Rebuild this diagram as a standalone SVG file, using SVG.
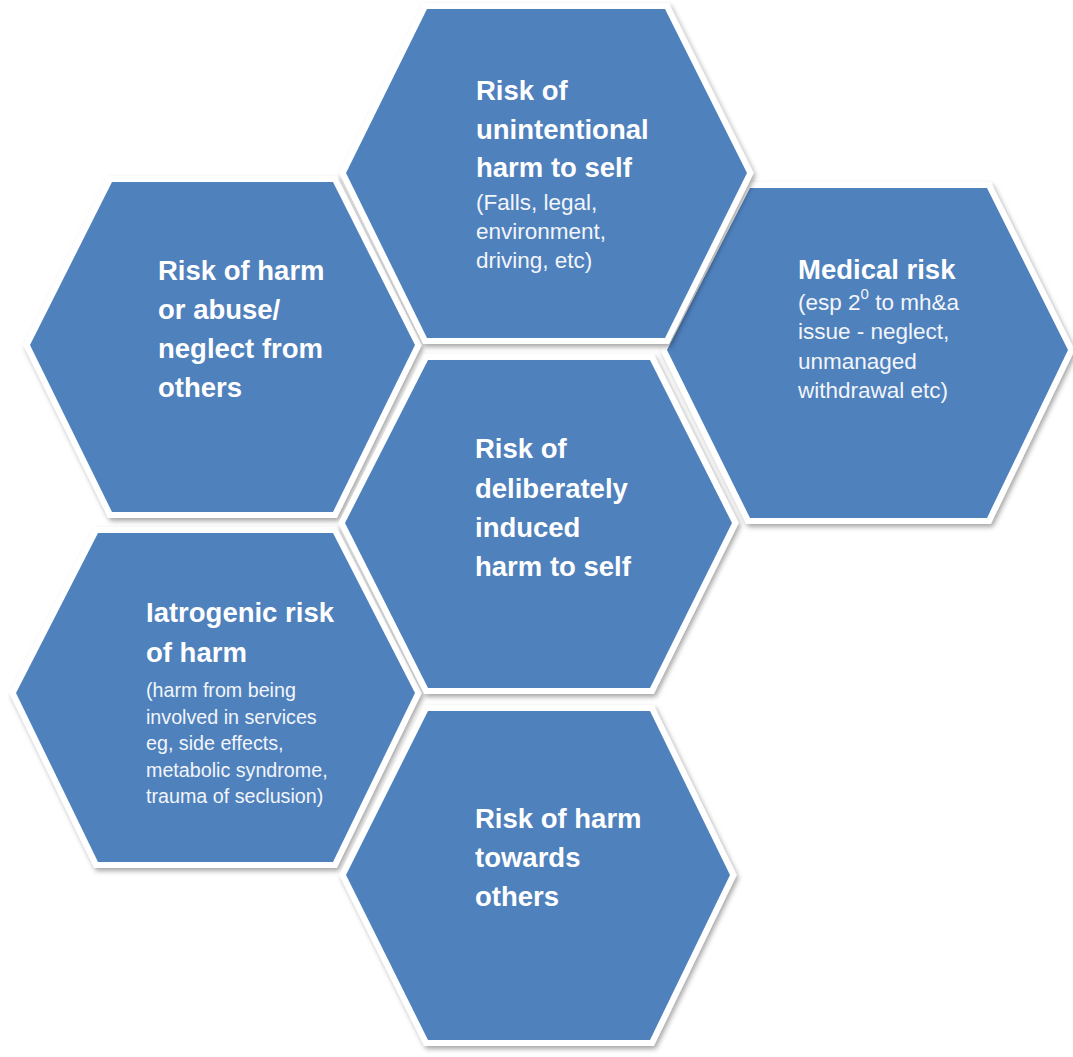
<svg xmlns="http://www.w3.org/2000/svg" width="1073" height="1057" viewBox="0 0 1073 1057">
  <defs>
    <filter id="shadow" x="-10%" y="-10%" width="120%" height="120%">
      <feDropShadow dx="2" dy="3" stdDeviation="2.5" flood-color="#000" flood-opacity="0.35"/>
    </filter>
  </defs>
  <style>
    .hex { fill: #4F81BD; stroke: #FFFFFF; stroke-width: 12; stroke-linejoin: miter; paint-order: stroke; filter: url(#shadow); }
    .title { font-family: "Liberation Sans", Arial, sans-serif; font-weight: bold; font-size: 27.5px; fill: #FFFFFF; }
    .sub { font-family: "Liberation Sans", Arial, sans-serif; font-size: 22.5px; fill: #F2F5FA; }
    .sub-sm { font-family: "Liberation Sans", Arial, sans-serif; font-size: 19.7px; fill: #F2F5FA; }
  </style>
  <rect width="1073" height="1057" fill="#FFFFFF"/>

  <!-- Left, upper -->
  <g id="harm-from-others">
    <polygon class="hex" points="112,182 333,182 415,345 333,512 112,512 30,345"/>
    <text class="title" x="158" y="280">Risk of harm</text>
    <text class="title" x="158" y="319">or abuse/</text>
    <text class="title" x="158" y="358">neglect from</text>
    <text class="title" x="158" y="397">others</text>
  </g>

  <!-- Left, lower -->
  <g id="iatrogenic">
    <polygon class="hex" points="98,533 333,533 415,693 333,862 98,862 16,693"/>
    <text class="title" x="146" y="622">Iatrogenic risk</text>
    <text class="title" x="146" y="662">of harm</text>
    <text class="sub-sm" x="146" y="697">(harm from being</text>
    <text class="sub-sm" x="146" y="724">involved in services</text>
    <text class="sub-sm" x="146" y="750">eg, side effects,</text>
    <text class="sub-sm" x="146" y="777">metabolic syndrome,</text>
    <text class="sub-sm" x="146" y="803">trauma of seclusion)</text>
  </g>

  <!-- Right -->
  <g id="medical">
    <polygon class="hex" points="750,188 987,188 1068,350 987,518 750,518 667,350"/>
    <text class="title" x="798" y="279">Medical risk</text>
    <text class="sub" x="798" y="310">(esp 2<tspan font-size="15" dy="-11">0</tspan><tspan dy="11"> to mh&amp;a</tspan></text>
    <text class="sub" x="798" y="339">issue - neglect,</text>
    <text class="sub" x="798" y="369">unmanaged</text>
    <text class="sub" x="798" y="398">withdrawal etc)</text>
  </g>

  <!-- Top -->
  <g id="unintentional-harm">
    <polygon class="hex" points="427,9 665,9 747,173 665,338 427,338 346,173"/>
    <text class="title" x="476" y="100">Risk of</text>
    <text class="title" x="476" y="139">unintentional</text>
    <text class="title" x="476" y="177">harm to self</text>
    <text class="sub" x="476" y="210">(Falls, legal,</text>
    <text class="sub" x="476" y="239">environment,</text>
    <text class="sub" x="476" y="268">driving, etc)</text>
  </g>

  <!-- Centre -->
  <g id="deliberate-harm">
    <polygon class="hex" points="428,360 650,360 732,523 650,688 428,688 345,523"/>
    <text class="title" x="475" y="458">Risk of</text>
    <text class="title" x="475" y="498">deliberately</text>
    <text class="title" x="475" y="537">induced</text>
    <text class="title" x="475" y="576">harm to self</text>
  </g>

  <!-- Bottom -->
  <g id="harm-to-others">
    <polygon class="hex" points="428,711 650,711 730,875 650,1040 428,1040 346,875"/>
    <text class="title" x="475" y="828">Risk of harm</text>
    <text class="title" x="475" y="867">towards</text>
    <text class="title" x="475" y="906">others</text>
  </g>

  <!-- no connectors: the cells only touch -->
  <g id="connectors"/>
</svg>
